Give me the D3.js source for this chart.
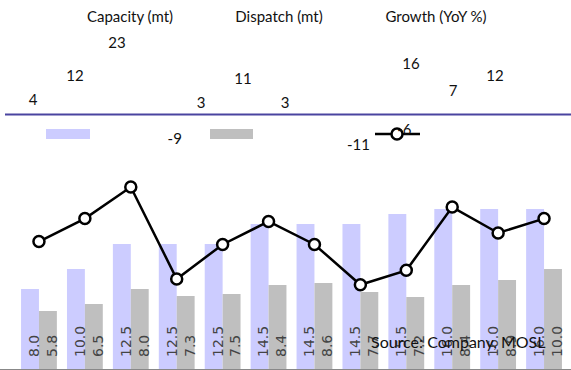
<!DOCTYPE html>
<html>
<head>
<meta charset="utf-8">
<script src="https://cdn.jsdelivr.net/npm/d3@7"></script>
<style>
  html, body { margin: 0; padding: 0; background: #fff; }
  svg { display: block; }
</style>
</head>
<body>
<svg id="chart" width="571" height="370"></svg>
<script>
// periods are not labelled on the chart
const periods = ['P1', 'P2', 'P3', 'P4', 'P5', 'P6', 'P7', 'P8', 'P9', 'P10', 'P11', 'P12'];
const capacity = [8.0, 10.0, 12.5, 12.5, 12.5, 14.5, 14.5, 14.5, 15.5, 16.0, 16.0, 16.0];
const dispatch = [5.8, 6.5, 8.0, 7.3, 7.5, 8.4, 8.6, 7.7, 7.2, 8.4, 8.9, 10.0];
const growth = [4, 12, 23, -9, 3, 11, 3, -11, -6, 16, 7, 12];
const legendItems = ['Capacity (mt)', 'Dispatch (mt)', 'Growth (YoY %)'];

const W = 571, H = 370;
const svg = d3.select('#chart');
const uiFont = 'Lato, "Open Sans", sans-serif';

const x = d3.scaleBand().domain(periods).range([16, 567]).paddingInner(0.22).paddingOuter(0.11);
const xSub = d3.scaleBand().domain(['cap', 'dis']).range([0, x.bandwidth()]);
const yBar = d3.scaleLinear().domain([0, 20]).range([369, 169]);
const yLine = d3.scaleLinear().domain([-20, 40]).range([310.6, 138.1]);
// the growth data labels sit in their own band above the plot
const yLabel = d3.scaleLinear().domain([-20, 40]).range([172, -8]);
const xLabel = d3.scaleLinear().domain([0, 11]).range([33, 495]);

const capColor = '#ccccff';
const disColor = '#bfbfbf';

// bars
const groups = svg.append('g').selectAll('g')
  .data(periods)
  .join('g')
  .attr('transform', (d) => `translate(${x(d)},0)`);

groups.append('rect')
  .attr('x', xSub('cap'))
  .attr('width', xSub.bandwidth())
  .attr('y', (d, i) => yBar(capacity[i]))
  .attr('height', (d, i) => yBar(0) - yBar(capacity[i]))
  .attr('fill', capColor);

groups.append('rect')
  .attr('x', xSub('dis'))
  .attr('width', xSub.bandwidth())
  .attr('y', (d, i) => yBar(dispatch[i]))
  .attr('height', (d, i) => yBar(0) - yBar(dispatch[i]))
  .attr('fill', disColor);

// rotated value labels inside bars
const barLabel = (g, key, vals) => {
  g.append('text')
    .attr('transform', `translate(${xSub(key) + xSub.bandwidth() / 2 + 4},${yBar(0) - 12}) rotate(-90)`)
    .attr('dy', '0.35em')
    .attr('font-family', '"DejaVu Sans", sans-serif')
    .attr('font-size', 14)
    .attr('fill', '#444')
    .text((d, i) => vals[i].toFixed(1));
};
barLabel(groups, 'cap', capacity);
barLabel(groups, 'dis', dispatch);

// axis baseline
svg.append('line')
  .attr('x1', 0).attr('x2', W)
  .attr('y1', yBar(0) + 0.5).attr('y2', yBar(0) + 0.5)
  .attr('stroke', '#888').attr('stroke-width', 1);

// growth line
const cx = (d) => x(d) + x.bandwidth() / 2;
const line = d3.line()
  .x((d) => cx(d))
  .y((d, i) => yLine(growth[i]));

svg.append('path')
  .datum(periods)
  .attr('d', line)
  .attr('fill', 'none')
  .attr('stroke', '#000')
  .attr('stroke-width', 2.5);

svg.append('g').selectAll('circle')
  .data(periods)
  .join('circle')
  .attr('cx', cx)
  .attr('cy', (d, i) => yLine(growth[i]))
  .attr('r', 5.5)
  .attr('fill', '#fff')
  .attr('stroke', '#000')
  .attr('stroke-width', 2.5);

// zero line of the label band
svg.append('line')
  .attr('x1', 5).attr('x2', W)
  .attr('y1', yLabel(0) + 2.5).attr('y2', yLabel(0) + 2.5)
  .attr('stroke', '#4a44a0').attr('stroke-width', 2);

// legend
const legend = svg.append('g');
const swatchX = [46, 210, 375];
const legendTextX = [130, 279, 436];
legend.selectAll('text')
  .data(legendItems)
  .join('text')
  .attr('x', (d, i) => legendTextX[i])
  .attr('y', 17)
  .attr('dy', '0.35em')
  .attr('text-anchor', 'middle')
  .attr('font-family', uiFont)
  .attr('font-size', 15)
  .attr('fill', '#111')
  .text((d) => d);

legend.append('rect').attr('x', swatchX[0]).attr('y', 129).attr('width', 44).attr('height', 10).attr('fill', capColor);
legend.append('rect').attr('x', swatchX[1]).attr('y', 129).attr('width', 43).attr('height', 10).attr('fill', disColor);
legend.append('line')
  .attr('x1', swatchX[2]).attr('x2', swatchX[2] + 45)
  .attr('y1', 134).attr('y2', 134)
  .attr('stroke', '#000').attr('stroke-width', 2.5);
legend.append('circle')
  .attr('cx', swatchX[2] + 22).attr('cy', 134).attr('r', 5.5)
  .attr('fill', '#fff').attr('stroke', '#000').attr('stroke-width', 2.5);

// growth data labels
svg.append('g').selectAll('text')
  .data(periods)
  .join('text')
  .attr('x', (d, i) => (growth[i] < 0 ? cx(d) - 2 : xLabel(i)))
  .attr('y', (d, i) => yLabel(growth[i]))
  .attr('dy', '0.35em')
  .attr('text-anchor', 'middle')
  .attr('font-family', uiFont)
  .attr('font-size', 15)
  .attr('fill', '#111')
  .text((d, i) => growth[i]);

// source note
svg.append('text')
  .attr('x', 371)
  .attr('y', 342)
  .attr('dy', '0.35em')
  .attr('font-family', uiFont)
  .attr('font-size', 16)
  .attr('fill', '#111')
  .text('Source: Company, MOSL');
</script>
</body>
</html>
